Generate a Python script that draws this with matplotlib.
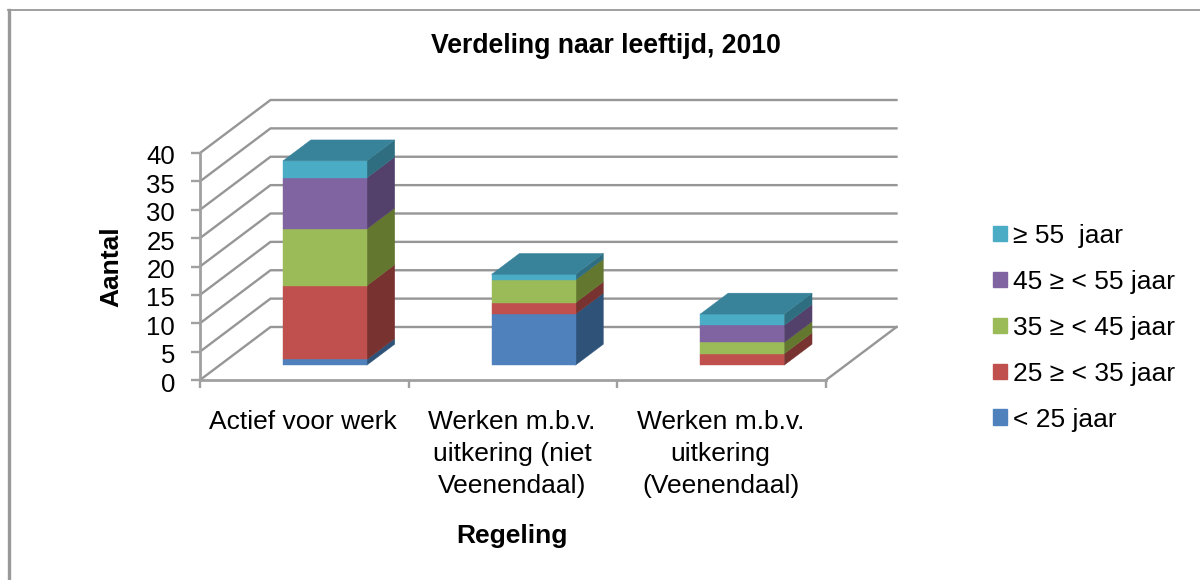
import matplotlib
matplotlib.use("Agg")
import matplotlib.pyplot as plt
from matplotlib.lines import Line2D
from matplotlib.patches import Polygon, Patch
from matplotlib.transforms import ScaledTranslation

plt.rcParams['font.family'] = ['Liberation Sans', 'DejaVu Sans']

categories = ["Actief voor werk", "Werken m.b.v.\nuitkering (niet\nVeenendaal)", "Werken m.b.v.\nuitkering\n(Veenendaal)"]
series_names = ["< 25 jaar", "25 ≥ < 35 jaar", "35 ≥ < 45 jaar", "45 ≥ < 55 jaar", "≥ 55  jaar"]
s_lt25 = [1, 9, 0]
s_25_35 = [13, 2, 2]
s_35_45 = [10, 4, 2]
s_45_55 = [9, 0, 3]
s_ge55 = [3, 1, 2]
series_values = [s_lt25, s_25_35, s_35_45, s_45_55, s_ge55]
front_colors = ["#4F81BD", "#C0504D", "#9BBB59", "#8064A2", "#4BACC6"]
side_colors = ["#2F5279", "#78322F", "#64772F", "#53406B", "#2F6E80"]
top_color = "#38839A"
grid_color = "#969696"
yticks = list(range(0, 41, 5))

W, H = 1200, 580
fig = plt.figure(figsize=(W / 100, H / 100), dpi=100, facecolor="white")
L, R, B, T = 200, 826, 380, 153
ax = fig.add_axes([L / W, 1 - B / H, (R - L) / W, (B - T) / H])
ax.set_xlim(0, 3)
ax.set_ylim(0, 40)
ax.patch.set_alpha(0)

# oblique depth projection
dx = 70.5 / (R - L) * 3
dy = 53 / (B - T) * 40
def proj(x, y, d):
    return (x + d * dx, y + d * dy)

# walls
for v in yticks:
    xs, ys = zip(proj(0, v, 0), proj(0, v, 1), proj(3, v, 1))
    ax.add_line(Line2D(xs, ys, color=grid_color, lw=1.7, clip_on=False, zorder=1))
xs, ys = zip(proj(3, 0, 0), proj(3, 0, 1))
ax.add_line(Line2D(xs, ys, color=grid_color, lw=1.7, clip_on=False, zorder=1))

# bars
x_off, bar_w = 0.303, 0.402
d0, d1 = 0.28, 0.675
for i in range(len(categories)):
    x0, x1 = i + x_off, i + x_off + bar_w
    base = 0
    for vals, fc, sc in zip(series_values, front_colors, side_colors):
        v = vals[i]
        if v == 0:
            continue
        y0, y1 = base, base + v
        ax.add_patch(Polygon([proj(x1, y0, d0), proj(x1, y1, d0), proj(x1, y1, d1), proj(x1, y0, d1)],
                             fc=sc, ec=sc, lw=0.3, clip_on=False, zorder=3))
        ax.add_patch(Polygon([proj(x0, y0, d0), proj(x1, y0, d0), proj(x1, y1, d0), proj(x0, y1, d0)],
                             fc=fc, ec=fc, lw=0.3, clip_on=False, zorder=4))
        base = y1
    ax.add_patch(Polygon([proj(x0, base, d0), proj(x1, base, d0), proj(x1, base, d1), proj(x0, base, d1)],
                         fc=top_color, ec=top_color, lw=0.3, clip_on=False, zorder=4))

# axes
for s in ("top", "right"):
    ax.spines[s].set_visible(False)
for s in ("left", "bottom"):
    ax.spines[s].set_color("#a0a0a0")
    ax.spines[s].set_linewidth(2.0)
ax.set_yticks(yticks)
ax.set_xticks([0, 1, 2, 3])
ax.set_xticklabels([])
ax.set_xticks([0.5, 1.5, 2.5], minor=True)
ax.set_xticklabels(categories, minor=True, fontsize=19, linespacing=1.42, color="black")
ax.tick_params(axis="x", which="minor", length=0, pad=21.5)
ax.tick_params(axis="x", which="major", length=6, width=1.7, color="#a0a0a0")
ax.tick_params(axis="y", length=6.5, width=1.7, color="#a0a0a0", labelsize=18.5, pad=11.5, labelcolor="black")
for lab in ax.get_yticklabels():
    lab.set_transform(lab.get_transform() + ScaledTranslation(0, -2 / 100, fig.dpi_scale_trans))
for lab in ax.get_xticklabels(minor=True):
    lab.set_transform(lab.get_transform() + ScaledTranslation(-1 / 100, 0, fig.dpi_scale_trans))

# text
fig.text(606 / W, 1 - 46 / H, "Verdeling naar leeftijd, 2010", ha="center", va="center", fontsize=19.2, fontweight="bold")
fig.text(111 / W, 1 - 267 / H, "Aantal", ha="center", va="center", rotation=90, fontsize=19, fontweight="bold")
fig.text(512 / W, 1 - 536 / H, "Regeling", ha="center", va="center", fontsize=19, fontweight="bold")

# legend
handles = [Patch(fc=c, ec=c) for c in front_colors[::-1]]
fig.legend(handles, series_names[::-1], loc="upper left", bbox_to_anchor=(993 / W, 1 - 224 / H),
           borderaxespad=0, borderpad=0, frameon=False, fontsize=19,
           handlelength=0.53, handleheight=0.53, handletextpad=0.23, labelspacing=0.83)

# outer frame
frame = "#999999"
fig.add_artist(Line2D([9 / W, 9 / W], [0, 1 - 9.5 / H], color=frame, lw=2.4, transform=fig.transFigure))
fig.add_artist(Line2D([8 / W, 1], [1 - 9.7 / H, 1 - 9.7 / H], color=frame, lw=1.3, transform=fig.transFigure))

fig.savefig("out.png", dpi=100)
